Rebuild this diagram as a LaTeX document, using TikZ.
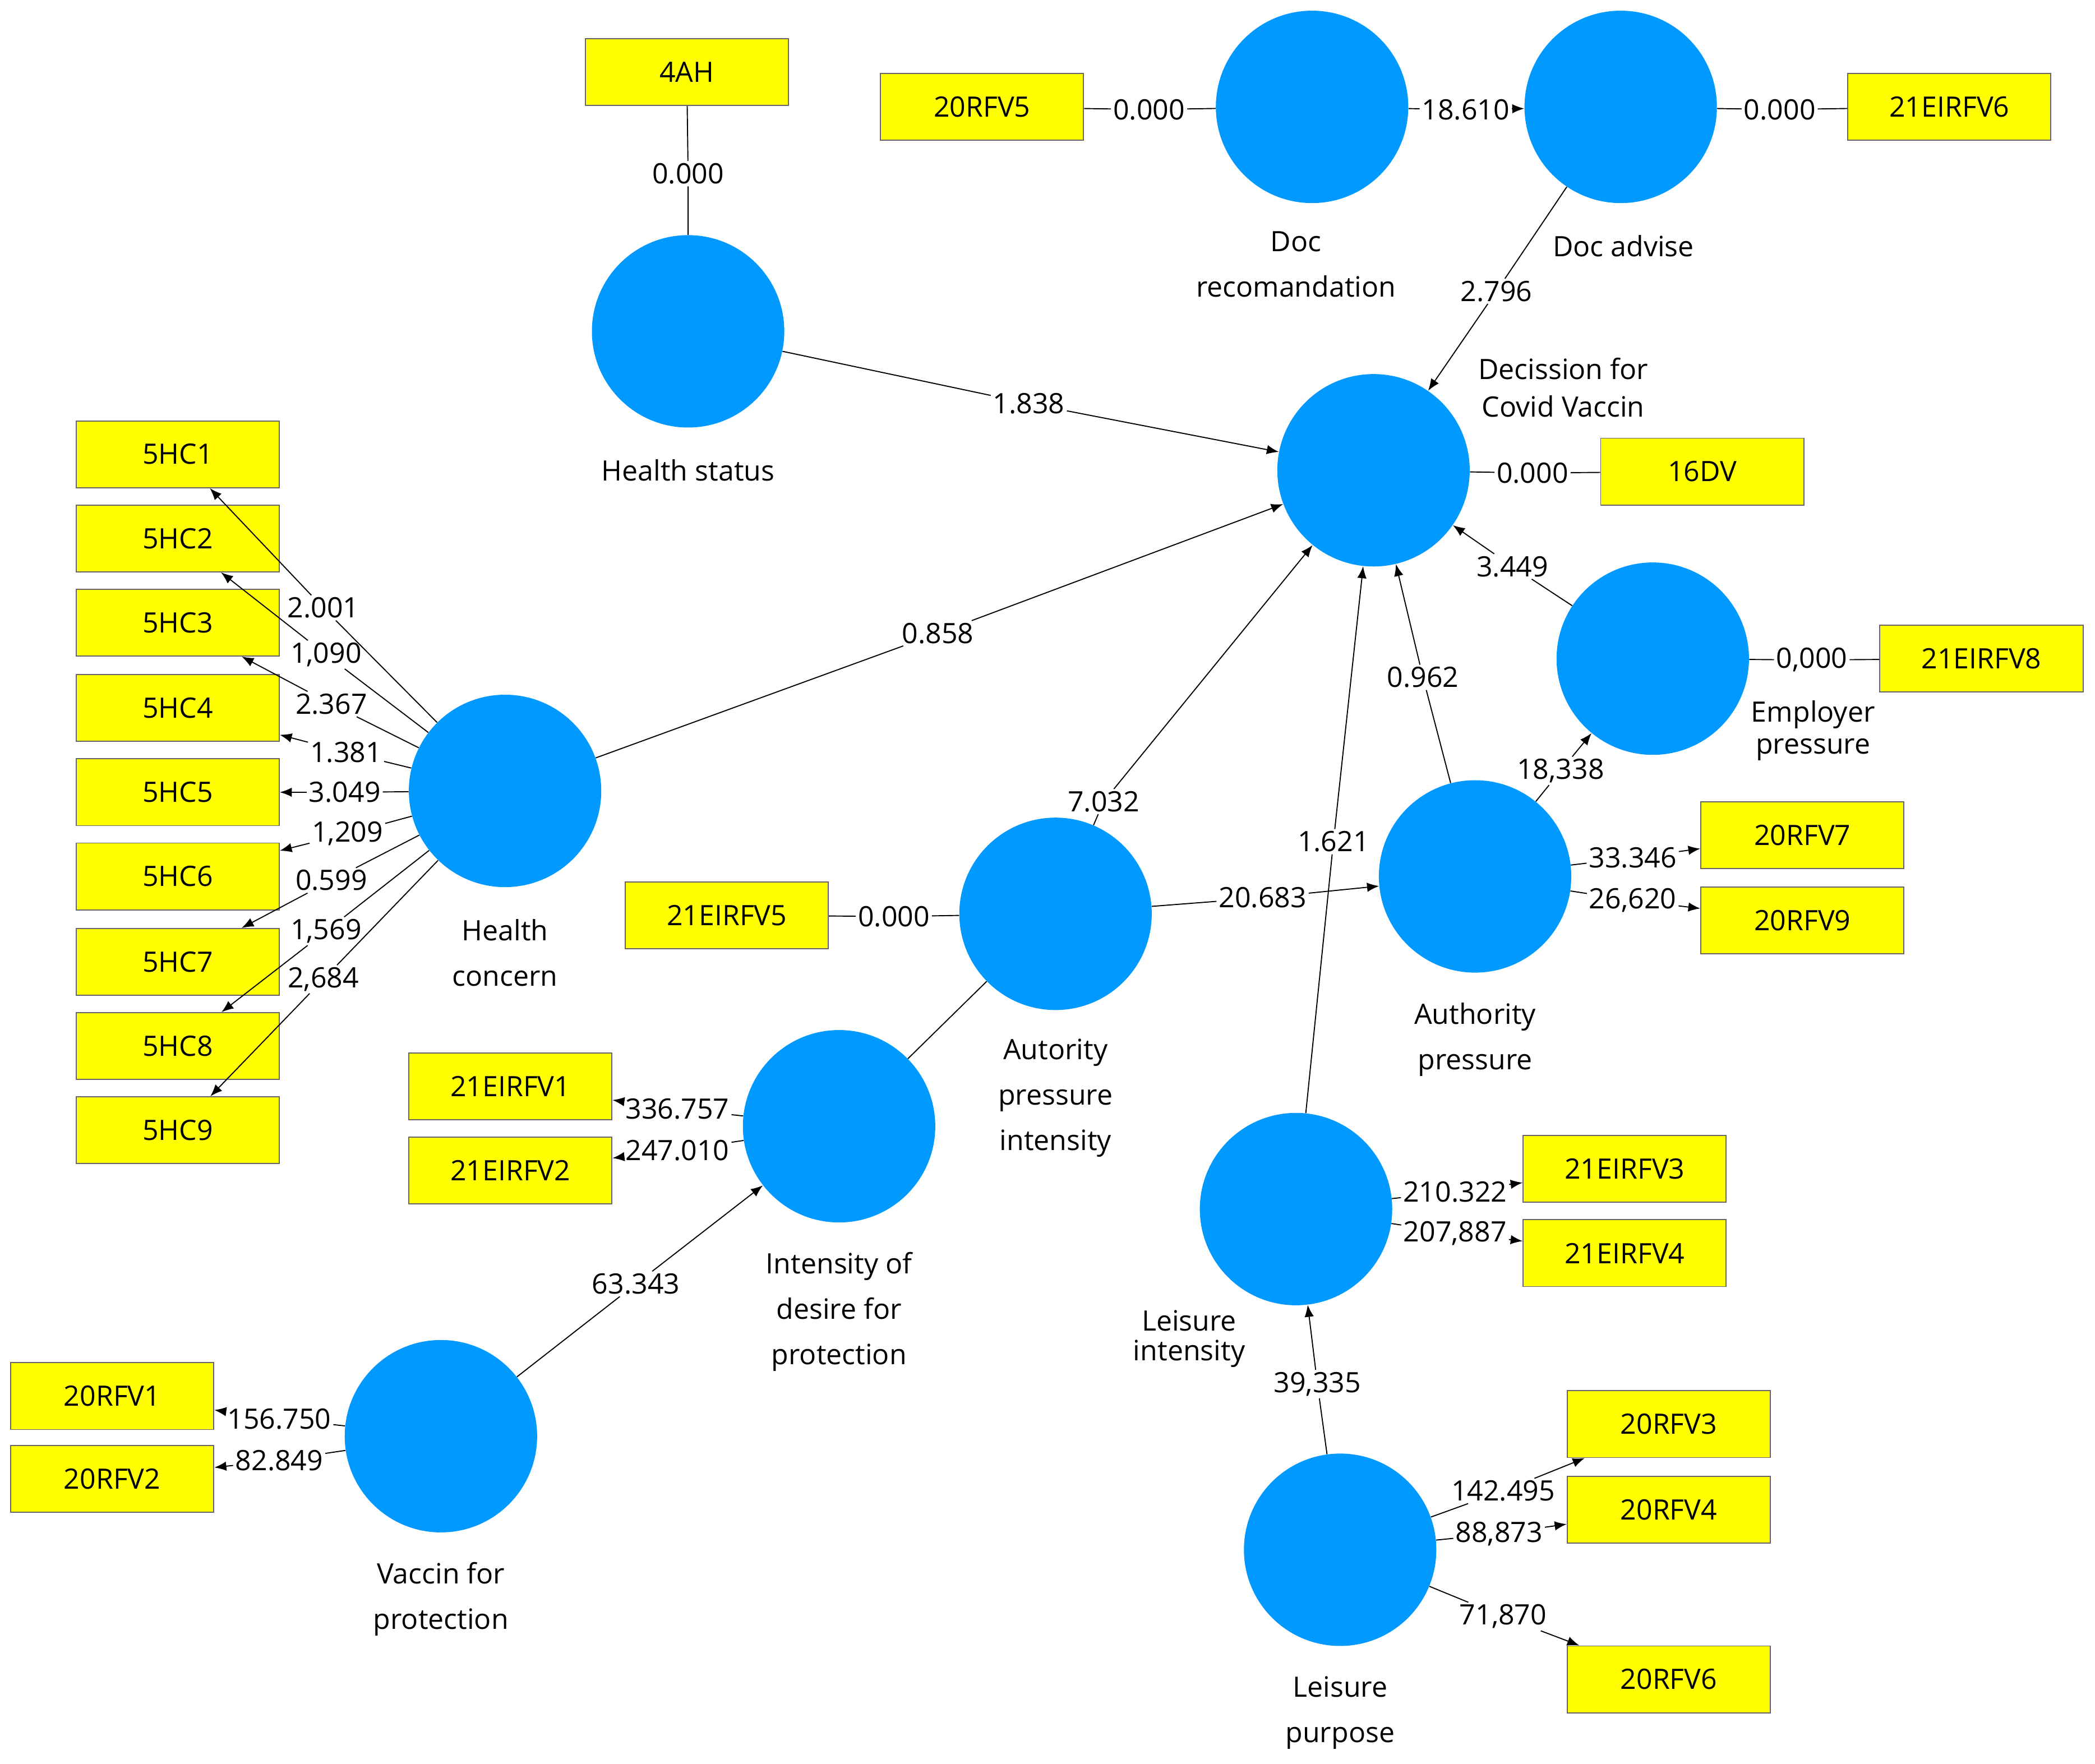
\documentclass[tikz,border=0pt]{standalone}
\usepackage{fontspec}
\setmainfont{Open Sans}
\usetikzlibrary{arrows.meta}
\definecolor{cb}{HTML}{0099FF}
\definecolor{yb}{HTML}{FFFF00}
\begin{document}
\begin{tikzpicture}[x=1pt,y=-1pt,
 lv/.style={circle,fill=cb,minimum size=144pt,inner sep=0},
 ind/.style={draw=black!60,line width=0.8pt,fill=yb,minimum width=152pt,minimum height=50pt,font=\fontsize{21}{24}\selectfont},
 lab/.style={fill=white,inner sep=1.5pt,font=\fontsize{21}{24}\selectfont},
 captxt/.style={align=center,font=\fontsize{21}{34}\selectfont},
 ln/.style={draw,line width=0.8pt},
 ar/.style={ln,-{Latex[length=9pt,width=7pt]}}]
\useasboundingbox (0,0) rectangle (1568,1320);
\fill[white] (0,0) rectangle (1568,1320);
% latent variables
\node[lv] (HS) at (515,248) {};
\node[lv] (DR) at (982,80) {};
\node[lv] (DA) at (1213,80) {};
\node[lv] (DV) at (1028,352) {};
\node[lv] (EP) at (1237,493) {};
\node[lv] (HC) at (378,592) {};
\node[lv] (API) at (790,684) {};
\node[lv] (AP) at (1104,656) {};
\node[lv] (IDP) at (628,843) {};
\node[lv] (LI) at (970,905) {};
\node[lv] (VP) at (330,1075) {};
\node[lv] (LP) at (1003,1160) {};
% captions
\node[captxt] (c1) at (515,352) {Health status};
\node[captxt] (c2) at (970,198) {Doc\\recomandation};
\node[captxt] (c3) at (1215,184) {Doc advise};
\node[captxt,font=\fontsize{21}{28}\selectfont] (c4) at (1170,290) {Decission for\\Covid Vaccin};
\node[captxt,font=\fontsize{21}{24}\selectfont] (c5) at (1357,547) {Employer\\pressure};
\node[captxt] (c6) at (378,713) {Health\\concern};
\node[captxt] (c7) at (790,822) {Autority\\pressure\\intensity};
\node[captxt] (c8) at (1104,778) {Authority\\pressure};
\node[captxt] (c9) at (628,982) {Intensity of\\desire for\\protection};
\node[captxt,font=\fontsize{21}{22}\selectfont] (c10) at (890,1002) {Leisure\\intensity};
\node[captxt] (c11) at (330,1197) {Vaccin for\\protection};
\node[captxt] (c12) at (1003,1282) {Leisure\\purpose};
% indicators
\node[ind] (AH) at (514,54) {4AH};
\node[ind] (R5) at (735,80) {20RFV5};
\node[ind] (E6) at (1459,80) {21EIRFV6};
\node[ind] (D16) at (1274,353) {16DV};
\node[ind] (E8) at (1483,493) {21EIRFV8};
\foreach \i/\y in {1/340,2/403,3/466,4/530,5/593,6/656,7/720,8/783,9/846}
  \node[ind] (H\i) at (133,\y) {5HC\i};
\node[ind] (E5) at (544,685) {21EIRFV5};
\node[ind] (R7) at (1349,625) {20RFV7};
\node[ind] (R9) at (1349,689) {20RFV9};
\node[ind] (E1) at (382,813) {21EIRFV1};
\node[ind] (E2) at (382,876) {21EIRFV2};
\node[ind] (E3) at (1216,875) {21EIRFV3};
\node[ind] (E4) at (1216,938) {21EIRFV4};
\node[ind] (R1) at (84,1045) {20RFV1};
\node[ind] (R2) at (84,1107) {20RFV2};
\node[ind] (R3) at (1249,1066) {20RFV3};
\node[ind] (R4) at (1249,1130) {20RFV4};
\node[ind] (R6) at (1249,1257) {20RFV6};
% labels and connectors
\newcommand{\lab}[3]{\node[lab] (#1) at (#2) {#3};}
\lab{l1}{515,130}{0.000} \path[ln] (AH)--(l1)--(HS);
\lab{l2}{860,82}{0.000} \path[ln] (R5)--(l2)--(DR);
\lab{l3}{1097,82}{18.610} \path[ln] (DR)--(l3); \path[ar] (l3)--(DA);
\lab{l4}{1332,82}{0.000} \path[ln] (DA)--(l4)--(E6);
\lab{l5}{1120,218}{2.796} \path[ln] (DA)--(l5); \path[ar] (l5)--(DV);
\lab{l6}{770,302}{1.838} \path[ln] (HS)--(l6); \path[ar] (l6)--(DV);
\lab{l7}{1147,354}{0.000} \path[ln] (DV)--(l7)--(D16);
\lab{l8}{1132,424}{3.449} \path[ln] (EP)--(l8); \path[ar] (l8)--(DV);
\lab{l9}{1356,494}{0,000} \path[ln] (EP)--(l9)--(E8);
\lab{l10}{702,474}{0.858} \path[ln] (HC)--(l10); \path[ar] (l10)--(DV);
\lab{l11}{826,600}{7.032} \path[ln] (API)--(l11); \path[ar] (l11)--(DV);
\lab{l12}{1065,507}{0.962} \path[ln] (AP)--(l12); \path[ar] (l12)--(DV);
\lab{l13}{998,630}{1.621} \path[ln] (LI)--(l13); \path[ar] (l13)--(DV);
\lab{l14}{945,672}{20.683} \path[ln] (API)--(l14); \path[ar] (l14)--(AP);
\lab{l15}{669,686}{0.000} \path[ln] (E5)--(l15)--(API);
\path[ln] (IDP)--(API);
\lab{l16}{476,961}{63.343} \path[ln] (VP)--(l16); \path[ar] (l16)--(IDP);
\lab{l17}{986,1036}{39,335} \path[ln] (LP)--(l17); \path[ar] (l17)--(LI);
\lab{l18}{1168,577}{18,338} \path[ln] (AP)--(l18); \path[ar] (l18)--(EP);
\lab{l19}{1222,642}{33.346} \path[ln] (AP)--(l19); \path[ar] (l19)--(R7);
\lab{l20}{1222,674}{26,620} \path[ln] (AP)--(l20); \path[ar] (l20)--(R9);
% health concern indicators
\foreach \i/\p/\t in {1/{242,455}/2.001,2/{244,490}/{1,090},3/{248,527}/2.367,4/{259,563}/1.381,5/{258,593}/3.049,6/{260,624}/{1,209},7/{248,659}/0.599,8/{244,697}/{1,569},9/{242,733}/{2,684}}{
  \node[lab,fill=none] (h\i) at (\p) {\t};
  \path[ln] (HC)--(h\i); \path[ar] (h\i)--(H\i);}
\lab{l21}{507,830}{336.757} \path[ln] (IDP)--(l21); \path[ar] (l21)--(E1);
\lab{l22}{507,861}{247.010} \path[ln] (IDP)--(l22); \path[ar] (l22)--(E2);
\lab{l23}{1089,892}{210.322} \path[ln] (LI)--(l23); \path[ar] (l23)--(E3);
\lab{l24}{1089,923}{207,887} \path[ln] (LI)--(l24); \path[ar] (l24)--(E4);
\lab{l25}{209,1062}{156.750} \path[ln] (VP)--(l25); \path[ar] (l25)--(R1);
\lab{l26}{209,1093}{82.849} \path[ln] (VP)--(l26); \path[ar] (l26)--(R2);
\lab{l27}{1125,1116}{142.495} \path[ln] (LP)--(l27); \path[ar] (l27)--(R3);
\lab{l28}{1122,1148}{88,873} \path[ln] (LP)--(l28); \path[ar] (l28)--(R4);
\lab{l29}{1125,1210}{71,870} \path[ln] (LP)--(l29); \path[ar] (l29)--(R6);
\end{tikzpicture}
\end{document}
